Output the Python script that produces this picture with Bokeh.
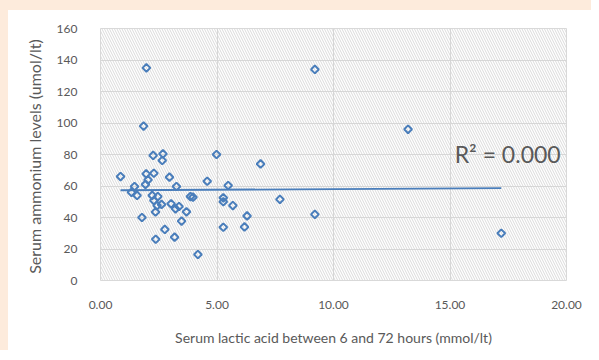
from bokeh.plotting import figure
from bokeh.models import Range1d, FixedTicker, NumeralTickFormatter, BoxAnnotation
from bokeh.core.properties import value
from bokeh.embed import file_html
from bokeh.resources import INLINE

# Data
lactic = [0.86, 1.97, 1.85, 9.2, 13.2, 17.2, 9.2, 7.7, 6.87, 4.98,
          5.27, 5.27, 5.48, 5.68, 6.29, 6.18, 5.27, 4.18, 4.58, 2.26,
          2.68, 2.65, 1.96, 2.29, 2.04, 2.96, 3.26, 1.46, 1.93, 1.33,
          1.57, 2.22, 2.46, 2.29, 3.86, 3.97, 2.62, 3.03, 2.43, 3.37,
          3.22, 3.69, 2.36, 1.78, 3.48, 2.76, 3.18, 2.37]
ammonium = [66, 135, 98, 134, 96, 30, 42, 51.5, 74, 80,
            52.5, 50, 60.3, 47.6, 41, 34, 33.8, 16.5, 63, 79.4,
            80.4, 76.2, 67.7, 68.1, 63.9, 65.6, 59.7, 59.7, 61, 56,
            54, 54, 53.3, 50.8, 53.3, 52.9, 48.3, 48.7, 47.6, 47,
            45.5, 43.6, 43.5, 40, 37.7, 32.4, 27.5, 26.2]
trend_x = [0.86, 17.2]
trend_y = [57.3, 58.6]
x_ticks = [0, 5, 10, 15, 20]
y_ticks = [0, 20, 40, 60, 80, 100, 120, 140, 160]
r2_label = "R\u00b2 = 0.000"

BLUE = "#4a7ebb"
GRAY = "#595959"
GRID = "#d9d9d9"
PEACH = "#fdebdc"
FONT = "Lato"

p = figure(width=591, height=350, output_backend="svg", toolbar_location=None,
           x_range=Range1d(0, 20), y_range=Range1d(0, 160),
           min_border_left=92, min_border_right=33, min_border_top=18, min_border_bottom=80)
p.styles = {"border-top": "10px solid " + PEACH, "border-left": "8px solid " + PEACH}

p.background_fill_color = "white"
p.border_fill_color = "white"
p.outline_line_color = GRID

hatch = BoxAnnotation(fill_alpha=0, line_color=None, level="underlay",
                      hatch_pattern="\\", hatch_color="#d0d0d0", hatch_scale=5, hatch_weight=0.8)
p.add_layout(hatch)

p.xgrid.grid_line_color = GRID
p.ygrid.grid_line_color = GRID
p.xaxis.ticker = FixedTicker(ticks=x_ticks)
p.yaxis.ticker = FixedTicker(ticks=y_ticks)
p.xaxis.formatter = NumeralTickFormatter(format="0.00")

for ax in (p.xaxis[0], p.yaxis[0]):
    ax.axis_line_color = None
    ax.major_tick_line_color = None
    ax.minor_tick_line_color = None
    ax.major_label_text_font = FONT
    ax.major_label_text_color = GRAY
    ax.major_label_text_font_size = "12px"
    ax.axis_label_text_font = FONT
    ax.axis_label_text_color = GRAY
    ax.axis_label_text_font_style = "normal"

p.xaxis.major_label_standoff = 14
p.yaxis.major_label_standoff = 17
p.xaxis.axis_label = "Serum lactic acid between 6 and 72 hours (mmol/lt)"
p.xaxis.axis_label_text_font_size = "14px"
p.xaxis.axis_label_standoff = 17
p.yaxis.axis_label = "Serum ammonium  levels (umol/lt)"
p.yaxis.axis_label_text_font_size = "16px"
p.yaxis.axis_label_standoff = 10

p.line(trend_x, trend_y, line_color=BLUE, line_width=1.8)
p.scatter(lactic, ammonium, marker="square", angle=0.785398, size=5.5,
          fill_color=None, line_color=BLUE, line_width=2)

p.text(x=[15.2], y=[80.5], text=[r2_label], text_font=value(FONT), text_font_size="23px",
       text_color=GRAY, text_baseline="middle", text_align="left")

html = file_html(p, INLINE)
open("out.html", "w").write(html)
